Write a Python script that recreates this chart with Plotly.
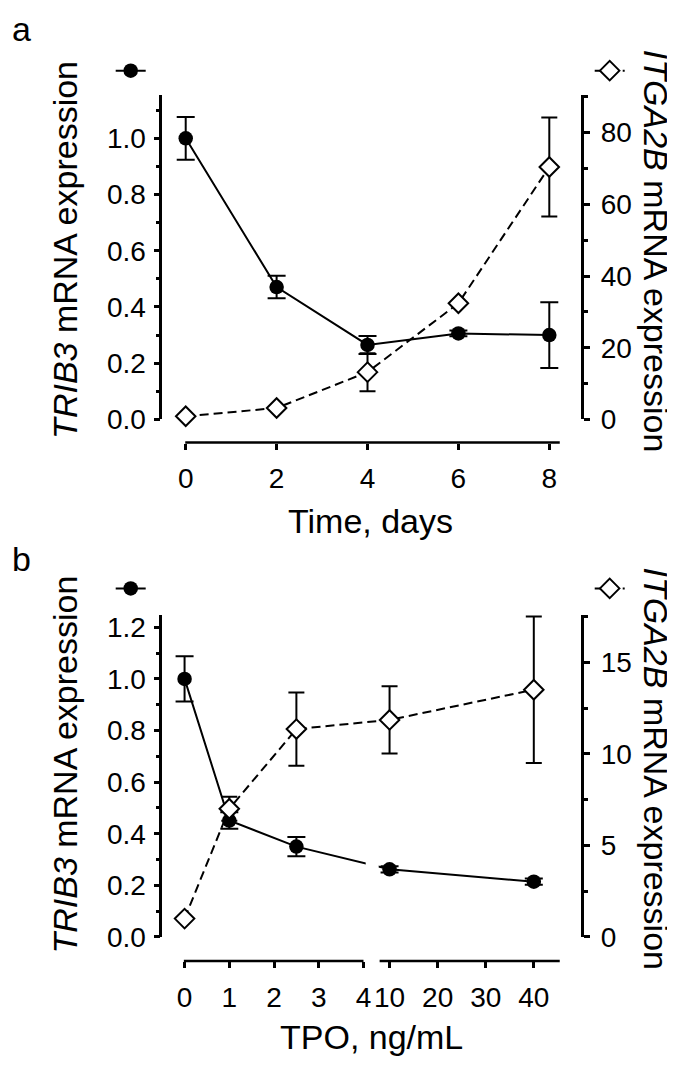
import plotly.graph_objects as go

W, H = 675, 1068
FONT = "Arial, Liberation Sans, sans-serif"

# ---------------- data: panel a (time course) ----------------
days = [0, 2, 4, 6, 8]
trib3_a = [1.00, 0.471, 0.265, 0.306, 0.30]
trib3_a_err = [0.076, 0.04, 0.032, 0.01, 0.117]
itga2b_a = [0.9, 3.2, 13.2, 32.4, 70.4]
itga2b_a_err = [0.0, 0.0, 5.3, 0.0, 13.8]

# ---------------- data: panel b (TPO dose) ----------------
tpo = [0, 1, 2.5, 10, 40]
trib3_b = [1.00, 0.451, 0.350, 0.262, 0.214]
trib3_b_err = [0.088, 0.032, 0.037, 0.012, 0.012]
itga2b_b = [1.0, 7.0, 11.35, 11.85, 13.5]
itga2b_b_err = [0.0, 0.65, 2.0, 1.84, 4.0]

# ---------------- tick labels ----------------
xticks_a = [0, 2, 4, 6, 8]
xticks_b = [0, 1, 2, 3, 4, 10, 20, 30, 40]
yl_a = [0.0, 0.2, 0.4, 0.6, 0.8, 1.0]
yl_a_minor = [0.1, 0.3, 0.5, 0.7, 0.9, 1.1]
yr_a = [0, 20, 40, 60, 80]
yr_a_minor = [10, 30, 50, 70, 90]
yl_b = [0.0, 0.2, 0.4, 0.6, 0.8, 1.0, 1.2]
yl_b_minor = [0.1, 0.3, 0.5, 0.7, 0.9, 1.1]
yr_b = [0, 5, 10, 15]
yr_b_minor = [2.5, 7.5, 12.5, 17.5]

# broken TPO axis: 0-4 linear, then 10-40 compressed
BREAK_LOW, HIGH_START, HIGH_SCALE = 4, 4.583, 0.1075


def tpo_pos(v):
    return v if v <= BREAK_LOW else HIGH_START + (v - 10) * HIGH_SCALE


def px_x(p):
    return p / W


def px_y(p):
    return 1 - p / H


tpo_x = [tpo_pos(v) for v in tpo]

fig = go.Figure()

circ_marker = dict(symbol="circle", size=14.5, color="black")
diam_marker = dict(symbol="diamond", size=15, color="white", line=dict(color="black", width=2))
solid = dict(color="black", width=2)
dashed = dict(color="black", width=2, dash="9px,5px")

# panel a traces
fig.add_trace(go.Scatter(
    x=days, y=trib3_a, xaxis="x", yaxis="y", mode="lines+markers",
    line=solid, marker=circ_marker, cliponaxis=False,
    error_y=dict(type="data", array=trib3_a_err, color="black", thickness=2, width=9),
    name="", legend="legend", showlegend=True))
fig.add_trace(go.Scatter(
    x=days, y=itga2b_a, xaxis="x", yaxis="y2", mode="lines+markers",
    line=dashed, marker=diam_marker, cliponaxis=False,
    error_y=dict(type="data", array=itga2b_a_err, color="black", thickness=2, width=8),
    name="", legend="legend2", showlegend=True))

# panel b traces
fig.add_trace(go.Scatter(
    x=tpo_x, y=trib3_b, xaxis="x2", yaxis="y3", mode="lines+markers",
    line=solid, marker=circ_marker, cliponaxis=False,
    error_y=dict(type="data", array=trib3_b_err, color="black", thickness=2, width=9),
    name="", legend="legend3", showlegend=True))
fig.add_trace(go.Scatter(
    x=tpo_x, y=itga2b_b, xaxis="x2", yaxis="y4", mode="lines+markers",
    line=dashed, marker=diam_marker, cliponaxis=False,
    error_y=dict(type="data", array=itga2b_b_err, color="black", thickness=2, width=8),
    name="", legend="legend4", showlegend=True))

tickfont = dict(family=FONT, size=28, color="black")
common_y = dict(showline=True, linewidth=2.5, linecolor="black", ticks="outside", ticklen=6,
                tickwidth=2.5, tickcolor="black", showgrid=False, zeroline=False, tickfont=tickfont)
common_x = dict(anchor="free", showline=False, ticks="outside", ticklen=6, tickwidth=2.5,
                tickcolor="black", showgrid=False, zeroline=False, tickfont=tickfont,
                ticklabelstandoff=5)
minor_style = dict(ticks="outside", ticklen=4, tickwidth=2.5, tickcolor="black", showgrid=False)

x_dom = [px_x(154.3), px_x(573.3)]

fig.update_layout(
    width=W, height=H, autosize=False,
    margin=dict(l=0, r=0, t=0, b=0),
    paper_bgcolor="white", plot_bgcolor="white",
    xaxis=dict(domain=x_dom, range=[-0.515, 8.704], position=px_y(440),
               tickvals=xticks_a, ticktext=[str(v) for v in xticks_a], **common_x),
    yaxis=dict(domain=[px_y(416.5), px_y(86.7)], range=[0, 1.153], anchor="x", side="left",
               tickvals=yl_a, ticktext=[f"{v:.1f}" for v in yl_a], ticklabelstandoff=2,
               minor=dict(tickvals=yl_a_minor, **minor_style), **common_y),
    yaxis2=dict(overlaying="y", range=[0, 90.4], anchor="x", side="right",
                tickvals=yr_a, ticktext=[str(v) for v in yr_a], ticklabelstandoff=5,
                minor=dict(tickvals=yr_a_minor, **minor_style), **common_y),
    xaxis2=dict(domain=x_dom, range=[-0.498, 8.870], position=px_y(967.3),
                tickvals=[tpo_pos(v) for v in xticks_b], ticktext=[str(v) for v in xticks_b],
                **common_x),
    yaxis3=dict(domain=[px_y(942.8), px_y(615)], range=[0, 1.249], anchor="x2", side="left",
                tickvals=yl_b, ticktext=[f"{v:.1f}" for v in yl_b], ticklabelstandoff=2,
                minor=dict(tickvals=yl_b_minor, **minor_style), **common_y),
    yaxis4=dict(overlaying="y3", range=[0, 17.6], anchor="x2", side="right",
                tickvals=yr_b, ticktext=[str(v) for v in yr_b], ticklabelstandoff=5,
                minor=dict(tickvals=yr_b_minor, **minor_style), **common_y),
)

# legends (symbol keys above each y axis)
leg_common = dict(xanchor="left", yanchor="middle", bgcolor="rgba(0,0,0,0)", borderwidth=0,
                  font=dict(size=10), itemwidth=30)
fig.update_layout(
    legend=dict(x=px_x(122.7 - 20), y=px_y(61.7), **leg_common),
    legend2=dict(x=px_x(601.7 - 20), y=px_y(61.7), **leg_common),
    legend3=dict(x=px_x(122.7 - 20), y=px_y(588.3), **leg_common),
    legend4=dict(x=px_x(601.7 - 20), y=px_y(588.3), **leg_common),
)

# axis lines (offset x axes, with break in panel b)
axis_line = dict(color="black", width=2.5)
shapes = [
    dict(type="line", xref="x", yref="paper", x0=-0.01, x1=8.23, y0=px_y(440), y1=px_y(440),
         line=axis_line),
    dict(type="line", xref="x2", yref="paper", x0=-0.016, x1=BREAK_LOW, y0=px_y(967.3),
         y1=px_y(967.3), line=axis_line),
    dict(type="line", xref="x2", yref="paper", x0=4.361, x1=8.388, y0=px_y(967.3),
         y1=px_y(967.3), line=axis_line),
    # gap in the data line at the axis break
    dict(type="rect", xref="x2", yref="y3", x0=4.05, x1=4.34, y0=0.22, y1=0.34,
         fillcolor="white", line=dict(width=0), layer="above"),
]
fig.update_layout(shapes=shapes)

title_font = dict(family=FONT, size=34, color="black")
ann = [
    dict(text="a", x=px_x(2), y=px_y(19.2), xanchor="left", yanchor="middle"),
    dict(text="b", x=px_x(2), y=px_y(558.2), xanchor="left", yanchor="middle"),
    dict(text="Time, days", x=px_x(362.5), y=px_y(520), xanchor="center", yanchor="middle"),
    dict(text="TPO, ng/mL", x=px_x(363.5), y=px_y(1045), xanchor="center", yanchor="middle"),
    dict(text="<i>TRIB3</i> mRNA expression", x=px_x(57), y=px_y(244), textangle=-90,
         xanchor="center", yanchor="middle"),
    dict(text="<i>ITGA2B</i> mRNA expression", x=px_x(648), y=px_y(245), textangle=90,
         xanchor="center", yanchor="middle"),
    dict(text="<i>TRIB3</i> mRNA expression", x=px_x(57), y=px_y(767.5), textangle=-90,
         xanchor="center", yanchor="middle"),
    dict(text="<i>ITGA2B</i> mRNA expression", x=px_x(648), y=px_y(771.5), textangle=90,
         xanchor="center", yanchor="middle"),
]
for a in ann:
    a.update(xref="paper", yref="paper", showarrow=False, font=title_font)
fig.update_layout(annotations=ann)

fig.write_html("out.html")
